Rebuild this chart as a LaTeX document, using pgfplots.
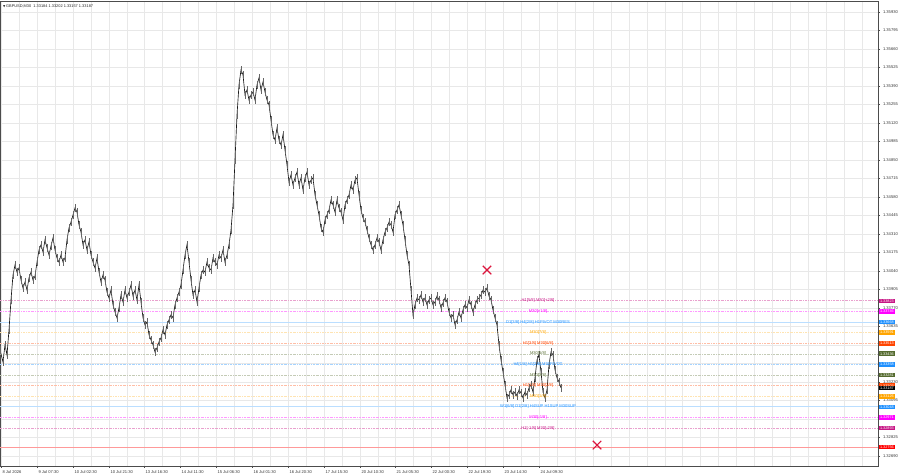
\documentclass[border=0pt]{standalone}
\usepackage{fontspec}
\setmainfont{Liberation Sans}
\newfontfamily\symfont{DejaVu Sans}
\usepackage{pgfplots}
\usepackage{pgfplotstable}
\pgfplotsset{compat=1.18}
\definecolor{mvr}{HTML}{C71585}
\definecolor{mag}{HTML}{FF00FF}
\definecolor{dblue}{HTML}{1E90FF}
\definecolor{orng}{HTML}{FFA500}
\definecolor{ored}{HTML}{FF4500}
\definecolor{olv}{HTML}{556B2F}
\definecolor{crim}{HTML}{DC143C}
\definecolor{gridc}{RGB}{232,232,232}
\pgfplotstableread{
x y
0 1.33464
3 1.33376
5 1.33501
7 1.33428
9 1.33610
11 1.33829
13 1.34011
15 1.34084
17 1.34032
19 1.34062
21 1.33974
23 1.33916
25 1.33959
27 1.33901
29 1.33989
31 1.34032
33 1.33974
35 1.34003
37 1.34105
39 1.34193
41 1.34231
43 1.34178
45 1.34267
47 1.34209
49 1.34157
51 1.34223
53 1.34281
55 1.34193
57 1.34135
59 1.34105
61 1.34157
63 1.34105
65 1.34135
67 1.34267
69 1.34354
71 1.34397
73 1.34449
75 1.34500
77 1.34470
79 1.34376
81 1.34324
83 1.34231
85 1.34267
87 1.34193
89 1.34252
91 1.34157
93 1.34105
95 1.34062
97 1.34135
99 1.34032
101 1.33959
103 1.34011
105 1.33974
107 1.33886
109 1.33843
111 1.33901
113 1.33793
115 1.33741
117 1.33698
119 1.33771
121 1.33865
123 1.33814
125 1.33901
127 1.33843
129 1.33886
131 1.33938
133 1.33857
135 1.33901
137 1.33829
139 1.33938
141 1.33814
143 1.33698
145 1.33647
147 1.33668
149 1.33574
151 1.33537
153 1.33501
155 1.33449
157 1.33479
159 1.33522
161 1.33552
163 1.33610
165 1.33574
167 1.33647
169 1.33683
171 1.33720
173 1.33698
175 1.33793
177 1.33843
179 1.33886
181 1.33938
183 1.34047
185 1.34157
187 1.34231
189 1.34105
191 1.33974
193 1.33865
195 1.33901
197 1.33814
199 1.33916
201 1.34011
203 1.34047
205 1.34032
207 1.34105
209 1.34062
211 1.34047
213 1.34135
215 1.34105
217 1.34084
219 1.34157
221 1.34135
223 1.34193
225 1.34105
227 1.34157
229 1.34231
231 1.34339
233 1.34522
235 1.34850
237 1.35179
239 1.35398
241 1.35507
243 1.35471
245 1.35325
247 1.35361
249 1.35288
251 1.35325
253 1.35346
255 1.35288
257 1.35398
259 1.35449
261 1.35361
263 1.35419
265 1.35346
267 1.35288
269 1.35252
271 1.35142
273 1.35033
275 1.34996
277 1.35084
279 1.34996
281 1.34960
283 1.35033
285 1.34923
287 1.34814
289 1.34689
291 1.34741
293 1.34668
295 1.34719
297 1.34762
299 1.34668
301 1.34719
303 1.34631
305 1.34719
307 1.34762
309 1.34668
311 1.34704
313 1.34719
315 1.34595
317 1.34522
319 1.34449
321 1.34354
323 1.34324
325 1.34412
327 1.34449
329 1.34485
331 1.34558
333 1.34522
335 1.34470
337 1.34558
339 1.34500
341 1.34470
343 1.34412
345 1.34522
347 1.34558
349 1.34595
351 1.34668
353 1.34631
355 1.34704
357 1.34719
359 1.34595
361 1.34485
363 1.34427
365 1.34397
367 1.34339
369 1.34281
371 1.34231
373 1.34193
375 1.34231
377 1.34281
379 1.34252
381 1.34193
383 1.34267
385 1.34324
387 1.34354
389 1.34397
391 1.34376
393 1.34324
395 1.34449
397 1.34485
399 1.34522
401 1.34449
403 1.34376
405 1.34267
407 1.34157
409 1.34084
411 1.33901
413 1.33720
415 1.33793
417 1.33843
419 1.33829
421 1.33865
423 1.33814
425 1.33843
427 1.33793
429 1.33829
431 1.33843
433 1.33793
435 1.33814
437 1.33857
439 1.33829
441 1.33771
443 1.33807
445 1.33843
447 1.33814
449 1.33741
451 1.33698
453 1.33720
455 1.33647
457 1.33683
459 1.33741
461 1.33698
463 1.33756
465 1.33793
467 1.33771
469 1.33829
471 1.33793
473 1.33741
475 1.33793
477 1.33829
479 1.33843
481 1.33865
483 1.33901
485 1.33886
487 1.33916
489 1.33857
491 1.33829
493 1.33756
495 1.33698
497 1.33647
499 1.33501
501 1.33391
503 1.33303
505 1.33209
507 1.33114
509 1.33136
511 1.33172
513 1.33136
515 1.33157
517 1.33128
519 1.33172
521 1.33150
523 1.33114
525 1.33157
527 1.33136
529 1.33187
531 1.33209
533 1.33157
535 1.33260
537 1.33391
539 1.33428
541 1.33303
543 1.33157
545 1.33114
547 1.33172
549 1.33355
551 1.33449
553 1.33428
555 1.33318
557 1.33260
559 1.33230
561 1.33187
}\pricedata
\begin{document}
\begin{tikzpicture}[font=\fontsize{3.9}{4.6}\selectfont]
\begin{axis}[
  at={(0,8pt)}, anchor=south west,
  scale only axis, width=878pt, height=465pt,
  xmin=0, xmax=878, ymin=1.32617, ymax=1.36010,
  axis line style={black!70, line width=0.5pt},
  xtick pos=lower, ytick pos=right, yticklabel pos=right,
  tick align=outside, major tick length=2pt, minor tick length=0pt,
  tick style={black!70, line width=0.4pt},
  xtick={1,37,73,109,144,180,216,252,288,324,360,395,431,467,503,539},
  xticklabels={8 Jul 2026, 9 Jul 07:30, 10 Jul 02:30, 10 Jul 21:30, 13 Jul 16:30, 14 Jul 11:30, 15 Jul 06:30, 16 Jul 01:30, 16 Jul 20:30, 17 Jul 15:30, 20 Jul 10:30, 21 Jul 05:30, 22 Jul 00:30, 22 Jul 19:30, 23 Jul 14:30, 24 Jul 09:30},
  minor xtick={19,55,91,127,162,198,234,270,306,342,378,413,449,485,521,557,575,593,611,629,647,665,682,700,718,736,754,772,790,808,826,844,862},
  ytick={1.32690,1.32825,1.32960,1.33095,1.33230,1.33365,1.33500,1.33635,1.33770,1.33905,1.34040,1.34175,1.34310,1.34445,1.34580,1.34715,1.34850,1.34985,1.35120,1.35255,1.35390,1.35525,1.35660,1.35795,1.35930},
  yticklabels={1.32690,1.32825,,1.33095,1.33230,,,1.33635,1.33770,1.33905,1.34040,1.34175,1.34310,1.34445,1.34580,1.34715,1.34850,1.34985,1.35120,1.35255,1.35390,1.35525,1.35660,1.35795,1.35930},
  yticklabel style={anchor=west, xshift=-0.5pt, text=black!80},
  xticklabel style={anchor=north west, xshift=-2pt, yshift=1pt, text=black!80},
  xmajorgrids, xminorgrids, ymajorgrids,
  major grid style={gridc, line width=0.4pt},
  minor grid style={gridc, line width=0.4pt},
  clip=true,
]
% Murrey levels
\tikzset{lvl/.style={line width=0.5pt, dash pattern=on 2pt off 1pt on 0.6pt off 1pt}}
\addplot[mvr!40, lvl] coordinates {(0,1.33823) (878,1.33823)};
\addplot[mag!40, lvl] coordinates {(0,1.33746) (878,1.33746)};
\addplot[dblue!30, line width=0.9pt] coordinates {(0,1.33668) (878,1.33668)};
\addplot[orng!30, lvl] coordinates {(0,1.33591) (878,1.33591)};
\addplot[ored!35, lvl] coordinates {(0,1.33513) (878,1.33513)};
\addplot[olv!35, lvl] coordinates {(0,1.33436) (878,1.33436)};
\addplot[dblue!40, lvl] coordinates {(0,1.33358) (878,1.33358)};
\addplot[olv!35, lvl] coordinates {(0,1.33281) (878,1.33281)};
\addplot[ored!35, lvl] coordinates {(0,1.33203) (878,1.33203)};
\addplot[orng!30, lvl] coordinates {(0,1.33126) (878,1.33126)};
\addplot[dblue!30, line width=0.9pt] coordinates {(0,1.33048) (878,1.33048)};
\addplot[mag!40, lvl] coordinates {(0,1.32971) (878,1.32971)};
\addplot[mvr!40, lvl] coordinates {(0,1.32893) (878,1.32893)};
\addplot[red!40, line width=0.7pt] coordinates {(0,1.32756) (878,1.32756)};
% price
\addplot[black!90, line width=0.65pt,
  error bars/.cd, y dir=both, y fixed=0.00028,
  error bar style={black!60, line width=0.4pt}, error mark=none]
  table[x=x, y=y] {\pricedata};
% crosses
\addplot[only marks, mark=x, mark size=6pt, crim, mark options={line width=1.1pt}] coordinates {(487,1.34047) (597,1.32770)};
% level labels
\tikzset{every node/.append style={font=\fontsize{4.1}{4.8}\selectfont}}
\node[text=mvr] at (axis cs:538,1.33823) {H1[5/8] M30[+2/8]};
\node[text=mag] at (axis cs:538,1.33746) {M30[+1/8]};
\node[text=dblue] at (axis cs:538,1.33668) {D1[3/8] H4[2/8] H1PIVOT M30RES};
\node[text=orng] at (axis cs:538,1.33591) {M30[7/8]};
\node[text=ored] at (axis cs:538,1.33513) {H1[3/8] M30[6/8]};
\node[text=olv] at (axis cs:538,1.33436) {M30[5/8]};
\node[text=dblue] at (axis cs:538,1.33358) {H4[1/8] H1[2/8] M30PIVOT};
\node[text=olv] at (axis cs:538,1.33281) {M30[3/8]};
\node[text=ored] at (axis cs:538,1.33203) {H1[1/8] M30[2/8]};
\node[text=orng] at (axis cs:538,1.33126) {M30[1/8]};
\node[text=dblue] at (axis cs:538,1.33048) {W1[6/8] D1[2/8] H4SUP H1SUP M30SUP};
\node[text=mag] at (axis cs:538,1.32971) {M30[-1/8]};
\node[text=mvr] at (axis cs:538,1.32893) {H1[-1/8] M30[-2/8]};
% title
\node[anchor=north west, inner sep=0pt, text=black!85, font=\fontsize{3.9}{4.6}\selectfont] at (axis cs:3,1.35985) {{\symfont\fontsize{3}{3}\selectfont▼}\,GBPUSD,M30\ \ 1.33184 1.33202 1.33157 1.33187};
\end{axis}
% right-side price boxes
\begin{scope}[every node/.style={anchor=west, inner xsep=0.8pt, inner ysep=0.9pt, text=white, minimum width=15pt, font=\fontsize{3.8}{4.5}\selectfont}]
\def\bx#1#2{\pgfmathsetmacro{\yy}{8+(#2-1.32617)/0.03393*465}\node[fill=#1] at (879pt,\yy pt) {#2};}
\bx{mvr}{1.33823}
\bx{mag}{1.33746}
\bx{dblue}{1.33668}
\bx{orng}{1.33591}
\bx{ored}{1.33513}
\bx{olv}{1.33436}
\bx{dblue}{1.33358}
\bx{olv}{1.33281}
\bx{ored}{1.33203}
\bx{black}{1.33187}
\bx{orng}{1.33126}
\bx{dblue}{1.33048}
\bx{mag}{1.32971}
\bx{mvr}{1.32893}
\bx{red}{1.32756}
\end{scope}
\pgfresetboundingbox
\useasboundingbox (0,0) rectangle (900pt,474pt);
\end{tikzpicture}
\end{document}
